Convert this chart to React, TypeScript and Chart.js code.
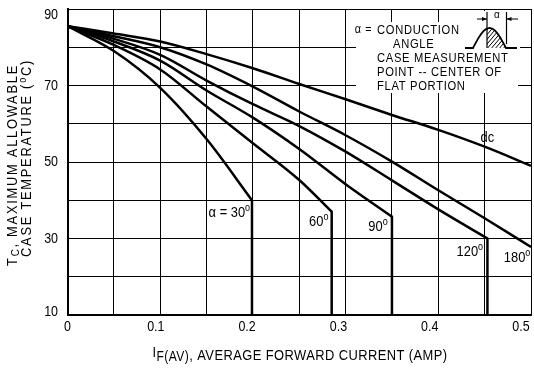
import React, { useEffect, useRef } from "react";
import { Chart, registerables } from "chart.js";

Chart.register(...registerables);

const FONT = '"Liberation Sans", Arial, sans-serif';
const SX = 0.86; // horizontal compression to mimic a condensed face

// tick labels
const xTickLabels = [0, 0.1, 0.2, 0.3, 0.4, 0.5];
const yTickLabels = [10, 30, 50, 70, 90];

// I_F(AV) (A) and T_C (°C) for each conduction angle
const iDc = [0, 0.05, 0.1, 0.15, 0.2, 0.25, 0.3, 0.35, 0.4, 0.45, 0.5];
const tcDc = [85.5, 83.6, 81.5, 78.2, 74.5, 70.4, 66.4, 62.3, 58.4, 54, 49];

const i180 = [0, 0.05, 0.1, 0.15, 0.2, 0.25, 0.3, 0.35, 0.4, 0.45, 0.5];
const tc180 = [85.5, 82.9, 80, 75.5, 69.7, 63.2, 57, 50.1, 42.6, 35.3, 27.8];

const i120 = [0, 0.05, 0.1, 0.15, 0.2, 0.25, 0.3, 0.35, 0.4, 0.453, 0.453];
const tc120 = [85.5, 82.2, 78, 71.3, 65.1, 59.4, 52.7, 45.2, 37.6, 30, 10];

const i90 = [0, 0.05, 0.1, 0.15, 0.2, 0.25, 0.3, 0.35, 0.35];
const tc90 = [85.5, 81.5, 76.5, 68.7, 61.6, 53.4, 44.2, 35.7, 10];

const i60 = [0, 0.05, 0.1, 0.15, 0.2, 0.25, 0.285, 0.285];
const tc60 = [85.5, 80.6, 74.2, 64.5, 54.9, 45.3, 37, 10];

const i30 = [0, 0.05, 0.1, 0.15, 0.199, 0.199];
const tc30 = [85.5, 79, 69.4, 56, 40, 10];

const seriesX = [iDc, i180, i120, i90, i60, i30];
const seriesY = [tcDc, tc180, tc120, tc90, tc60, tc30];

// curve labels: [main text, superscript, I, Tc anchor, align]
const curveLabels: [string, string, number, number, string][] = [
  ["α = 30", "o", 0.197, 36.7, "right"],
  ["60", "o", 0.271, 34.3, "center"],
  ["90", "o", 0.335, 33, "center"],
  ["120", "o", 0.434, 26.5, "center"],
  ["180", "o", 0.485, 24.9, "center"],
  ["dc", "", 0.453, 56.3, "center"],
];

type Run = { t: string; size: number; dy: number };

function drawRuns(ctx: CanvasRenderingContext2D, runs: Run[], x: number, y: number, align: string, sx = SX) {
  let total = 0;
  const widths = runs.map((r) => {
    ctx.font = `${r.size}px ${FONT}`;
    const w = ctx.measureText(r.t).width;
    total += w;
    return w;
  });
  const tw = total * sx;
  const start = align === "center" ? x - tw / 2 : align === "right" ? x - tw : x;
  ctx.save();
  ctx.translate(start, y);
  ctx.scale(sx, 1);
  ctx.textAlign = "left";
  ctx.textBaseline = "middle";
  let cx = 0;
  runs.forEach((r, i) => {
    ctx.font = `${r.size}px ${FONT}`;
    ctx.fillText(r.t, cx, r.dy);
    cx += widths[i];
  });
  ctx.restore();
}

const annotPlugin = {
  id: "annot",
  beforeDatasetsDraw(chart: any) {
    const ctx: CanvasRenderingContext2D = chart.ctx;
    ctx.save();
    ctx.fillStyle = "#fff";
    ctx.fillRect(356, 22, 162, 71);
    ctx.fillRect(462, 11, 58, 40);
    ctx.restore();
  },
  afterDraw(chart: any) {
    const ctx: CanvasRenderingContext2D = chart.ctx;
    const xs = chart.scales.x;
    const ys = chart.scales.y;
    const area = chart.chartArea;
    ctx.save();
    ctx.fillStyle = "#000";
    ctx.strokeStyle = "#000";

    // x tick labels
    xTickLabels.forEach((v) => {
      const dx = v === 0 ? 0 : -(3 + 14 * v);
      drawRuns(ctx, [{ t: v === 0 ? "0" : String(v), size: 14.5, dy: 0 }], xs.getPixelForValue(v) + dx, 327, "center");
    });
    // y tick labels
    yTickLabels.forEach((v) => {
      const py = Math.max(area.top + 6, Math.min(area.bottom - 3, ys.getPixelForValue(v)));
      drawRuns(ctx, [{ t: String(v), size: 14.5, dy: 0 }], 58, py, "right");
    });

    // curve labels
    curveLabels.forEach(([t, sup, i, tc, align]) => {
      const runs: Run[] = [{ t, size: 15, dy: 0 }];
      if (sup) runs.push({ t: sup, size: 10.5, dy: -5 });
      drawRuns(ctx, runs, xs.getPixelForValue(i), ys.getPixelForValue(tc), align);
    });

    // inset text
    ctx.letterSpacing = "0.8px";
    drawRuns(ctx, [{ t: "α = ", size: 12.5, dy: 0 }], 376, 30, "right");
    drawRuns(ctx, [{ t: "CONDUCTION", size: 13, dy: 0 }], 377, 30, "left");
    drawRuns(ctx, [{ t: "ANGLE", size: 13, dy: 0 }], 393, 44, "left");
    drawRuns(ctx, [{ t: "CASE MEASUREMENT", size: 13, dy: 0 }], 377, 58, "left");
    drawRuns(ctx, [{ t: "POINT -- CENTER OF", size: 13, dy: 0 }], 377, 72, "left");
    drawRuns(ctx, [{ t: "FLAT PORTION", size: 13, dy: 0 }], 377, 86, "left");
    ctx.letterSpacing = "0px";

    // waveform icon
    const x0 = 473, x1 = 506, base = 48, amp = 20;
    const pulse = (t: number) => [x0 + (x1 - x0) * t, base - amp * Math.sin(Math.PI * t)];
    ctx.lineWidth = 1.8;
    ctx.beginPath();
    ctx.moveTo(465, base);
    for (let k = 0; k <= 40; k++) {
      const [px, py] = pulse(k / 40);
      ctx.lineTo(px, py);
    }
    ctx.lineTo(517, base);
    ctx.stroke();
    ctx.save();
    ctx.beginPath();
    ctx.moveTo(487, base);
    for (let k = 0; k <= 40; k++) {
      const [px, py] = pulse(k / 40);
      if (px >= 487) ctx.lineTo(px, py);
    }
    ctx.closePath();
    ctx.clip();
    ctx.lineWidth = 1;
    for (let h = 470; h < 520; h += 4) {
      ctx.beginPath();
      ctx.moveTo(h, base + 2);
      ctx.lineTo(h + 22, base - 24);
      ctx.stroke();
    }
    ctx.restore();
    ctx.lineWidth = 1.2;
    ctx.beginPath();
    ctx.moveTo(487, base);
    ctx.lineTo(487, 12);
    ctx.moveTo(506.5, base - 4);
    ctx.lineTo(506.5, 12);
    ctx.moveTo(477, 19);
    ctx.lineTo(487, 19);
    ctx.moveTo(518, 19);
    ctx.lineTo(506.5, 19);
    ctx.stroke();
    ctx.beginPath();
    ctx.moveTo(487, 19);
    ctx.lineTo(482, 17);
    ctx.lineTo(482, 21);
    ctx.closePath();
    ctx.moveTo(506.5, 19);
    ctx.lineTo(511.5, 17);
    ctx.lineTo(511.5, 21);
    ctx.closePath();
    ctx.fill();
    drawRuns(ctx, [{ t: "α", size: 10, dy: 0 }], 497, 15, "center", 1);

    // axis titles
    ctx.letterSpacing = "0.5px";
    drawRuns(
      ctx,
      [
        { t: "I", size: 15, dy: -3 },
        { t: "F(AV)", size: 14, dy: 1 },
        { t: ", AVERAGE FORWARD CURRENT (AMP)", size: 15, dy: 0 },
      ],
      300,
      356,
      "center"
    );
    ctx.letterSpacing = "2px";
    ctx.save();
    ctx.translate(13, 165);
    ctx.rotate(-Math.PI / 2);
    drawRuns(
      ctx,
      [
        { t: "T", size: 15, dy: 0 },
        { t: "C", size: 11.5, dy: 3 },
        { t: ", MAXIMUM ALLOWABLE", size: 15, dy: 0 },
      ],
      0,
      0,
      "center"
    );
    ctx.restore();
    ctx.save();
    ctx.translate(27, 158);
    ctx.rotate(-Math.PI / 2);
    drawRuns(
      ctx,
      [
        { t: "CASE TEMPERATURE (", size: 15, dy: 0 },
        { t: "o", size: 10.5, dy: -4 },
        { t: "C)", size: 15, dy: 0 },
      ],
      0,
      0,
      "center"
    );
    ctx.restore();
    ctx.letterSpacing = "0px";
    ctx.restore();
  },
};

function buildDatasets() {
  const sets: any[] = [];
  seriesX.forEach((xsArr, k) => {
    const pts = xsArr.map((x, i) => ({ x, y: seriesY[k][i] }));
    const n = pts.length;
    const hasDrop = n > 1 && pts[n - 1].x === pts[n - 2].x;
    const curve = hasDrop ? pts.slice(0, n - 1) : pts;
    const base = {
      showLine: true,
      borderColor: "#000",
      backgroundColor: "#000",
      borderWidth: 2.5,
      pointRadius: 0,
      fill: false,
      borderJoinStyle: "round",
      borderCapStyle: "butt",
    };
    sets.push({ ...base, data: curve, cubicInterpolationMode: "monotone" });
    if (hasDrop) sets.push({ ...base, data: pts.slice(n - 2), tension: 0 });
  });
  return sets;
}

export default function App() {
  const ref = useRef<HTMLCanvasElement>(null);
  useEffect(() => {
    const canvas = ref.current;
    if (!canvas) return;
    const chart = new Chart(canvas, {
      type: "scatter",
      data: { datasets: buildDatasets() },
      options: {
        responsive: false,
        maintainAspectRatio: false,
        animation: false,
        devicePixelRatio: 1,
        layout: { padding: { top: 9, right: 3, left: 0, bottom: 0 } },
        plugins: { legend: { display: false }, tooltip: { enabled: false } },
        scales: {
          x: {
            type: "linear",
            min: 0,
            max: 0.5,
            ticks: { stepSize: 0.05, display: false },
            grid: { color: "#000", lineWidth: 1, drawTicks: false },
            border: { color: "#000", width: 2 },
            afterFit: (s: any) => {
              s.height = 59;
            },
          },
          y: {
            type: "linear",
            min: 10,
            max: 90,
            ticks: { stepSize: 10, display: false },
            grid: { color: "#000", lineWidth: 1, drawTicks: false },
            border: { color: "#000", width: 2 },
            afterFit: (s: any) => {
              s.width = 67.5;
            },
          },
        },
      } as any,
      plugins: [annotPlugin],
    });
    return () => chart.destroy();
  }, []);
  return (
    <div style={{ position: "absolute", left: 0, top: 0, width: 534, height: 374, background: "#fff" }}>
      <canvas ref={ref} width={534} height={374} style={{ display: "block" }} />
    </div>
  );
}
